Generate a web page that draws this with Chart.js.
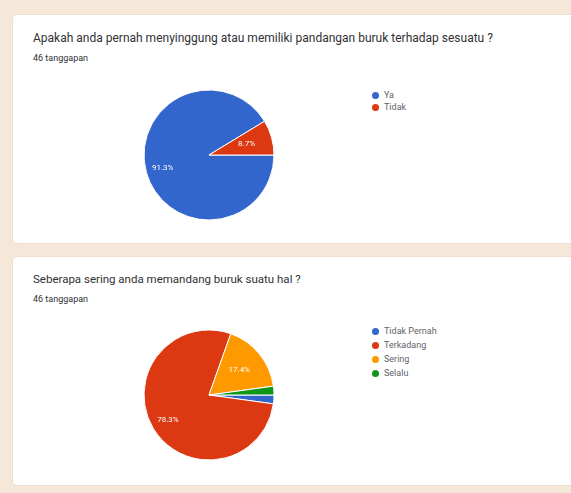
<!DOCTYPE html>
<html>
<head>
<meta charset="utf-8">
<script src="https://cdn.jsdelivr.net/npm/chart.js@4.4.1/dist/chart.umd.min.js"></script>
<style>
  body {
    margin: 0;
    width: 571px;
    height: 493px;
    overflow: hidden;
    position: relative;
    background: #f6e8d9;
    font-family: Roboto, Arial, sans-serif;
  }
  .card {
    position: absolute;
    left: 12px;
    width: 570px;
    height: 228px;
    background: #fff;
    border: 1px solid #ecdfd1;
    border-radius: 5px;
  }
  .title {
    position: absolute;
    left: 20px;
    line-height: 14px;
    color: #303134;
    white-space: nowrap;
  }
  .sub {
    position: absolute;
    left: 20px;
    font-size: 9px;
    line-height: 10px;
    color: #303134;
  }
  .pie { position: absolute; left: 116px; }
  .legend {
    position: absolute;
    left: 359px;
    font-size: 9px;
    color: #5f6368;
  }
  .legend .item { display: flex; align-items: center; white-space: nowrap; }
  .legend .dot { width: 7px; height: 7px; border-radius: 50%; margin-right: 5px; }
</style>
</head>
<body>

<div class="card" style="top:14px">
  <div class="title" style="top:16px; font-size:12px">Apakah anda pernah menyinggung atau memiliki pandangan buruk terhadap sesuatu ?</div>
  <div class="sub" style="top:38px">46 tanggapan</div>
  <canvas id="pie1" class="pie" width="160" height="140" style="top:70px"></canvas>
  <div id="legend1" class="legend" style="top:74px"></div>
</div>

<div class="card" style="top:256px">
  <div class="title" style="top:15px; font-size:11.5px">Seberapa sering anda memandang buruk suatu hal ?</div>
  <div class="sub" style="top:37px">46 tanggapan</div>
  <canvas id="pie2" class="pie" width="160" height="140" style="top:68px"></canvas>
  <div id="legend2" class="legend" style="top:67px"></div>
</div>

<script>
// Answers per question (46 responses each)
const labels1 = ['Ya', 'Tidak'];
const counts1 = [42, 4];
const colors1 = ['#3366cc', '#dc3912'];

const labels2 = ['Tidak Pernah', 'Terkadang', 'Sering', 'Selalu'];
const counts2 = [1, 36, 8, 1];
const colors2 = ['#3366cc', '#dc3912', '#ff9900', '#109618'];

// White percentage text inside the bigger slices
const sliceLabels = {
  id: 'sliceLabels',
  afterDatasetsDraw(chart) {
    const ctx = chart.ctx;
    const meta = chart.getDatasetMeta(0);
    const values = chart.data.datasets[0].data;
    const total = values.reduce((a, b) => a + b, 0);
    ctx.save();
    ctx.fillStyle = '#fff';
    ctx.font = '8px Roboto, Arial, sans-serif';
    ctx.textAlign = 'center';
    ctx.textBaseline = 'middle';
    meta.data.forEach((arc, i) => {
      const share = values[i] / total;
      if (share < 0.05) return;
      const mid = (arc.startAngle + arc.endAngle) / 2;
      const dist = arc.outerRadius * (share > 0.5 ? 0.74 : 0.6);
      ctx.fillText((share * 100).toFixed(1) + '%', arc.x + Math.cos(mid) * dist, arc.y + Math.sin(mid) * dist);
    });
    ctx.restore();
  }
};

function createPie(id, labels, data, colors) {
  const ctx = document.getElementById(id).getContext('2d');
  return new Chart(ctx, {
    type: 'pie',
    data: {
      labels: labels,
      datasets: [{
        data: data,
        backgroundColor: colors,
        borderColor: '#fff',
        borderWidth: 1
      }]
    },
    options: {
      responsive: false,
      animation: false,
      radius: 65,
      rotation: 90,
      plugins: {
        legend: { display: false },
        tooltip: { enabled: false }
      }
    },
    plugins: [sliceLabels]
  });
}

function buildLegend(id, labels, colors, rowHeight) {
  const box = document.getElementById(id);
  labels.forEach((label, i) => {
    const item = document.createElement('div');
    item.className = 'item';
    item.style.height = rowHeight + 'px';
    const dot = document.createElement('span');
    dot.className = 'dot';
    dot.style.background = colors[i];
    item.appendChild(dot);
    item.appendChild(document.createTextNode(label));
    box.appendChild(item);
  });
}

createPie('pie1', labels1, counts1, colors1);
createPie('pie2', labels2, counts2, colors2);
buildLegend('legend1', labels1, colors1, 12);
buildLegend('legend2', labels2, colors2, 14);
</script>
</body>
</html>
